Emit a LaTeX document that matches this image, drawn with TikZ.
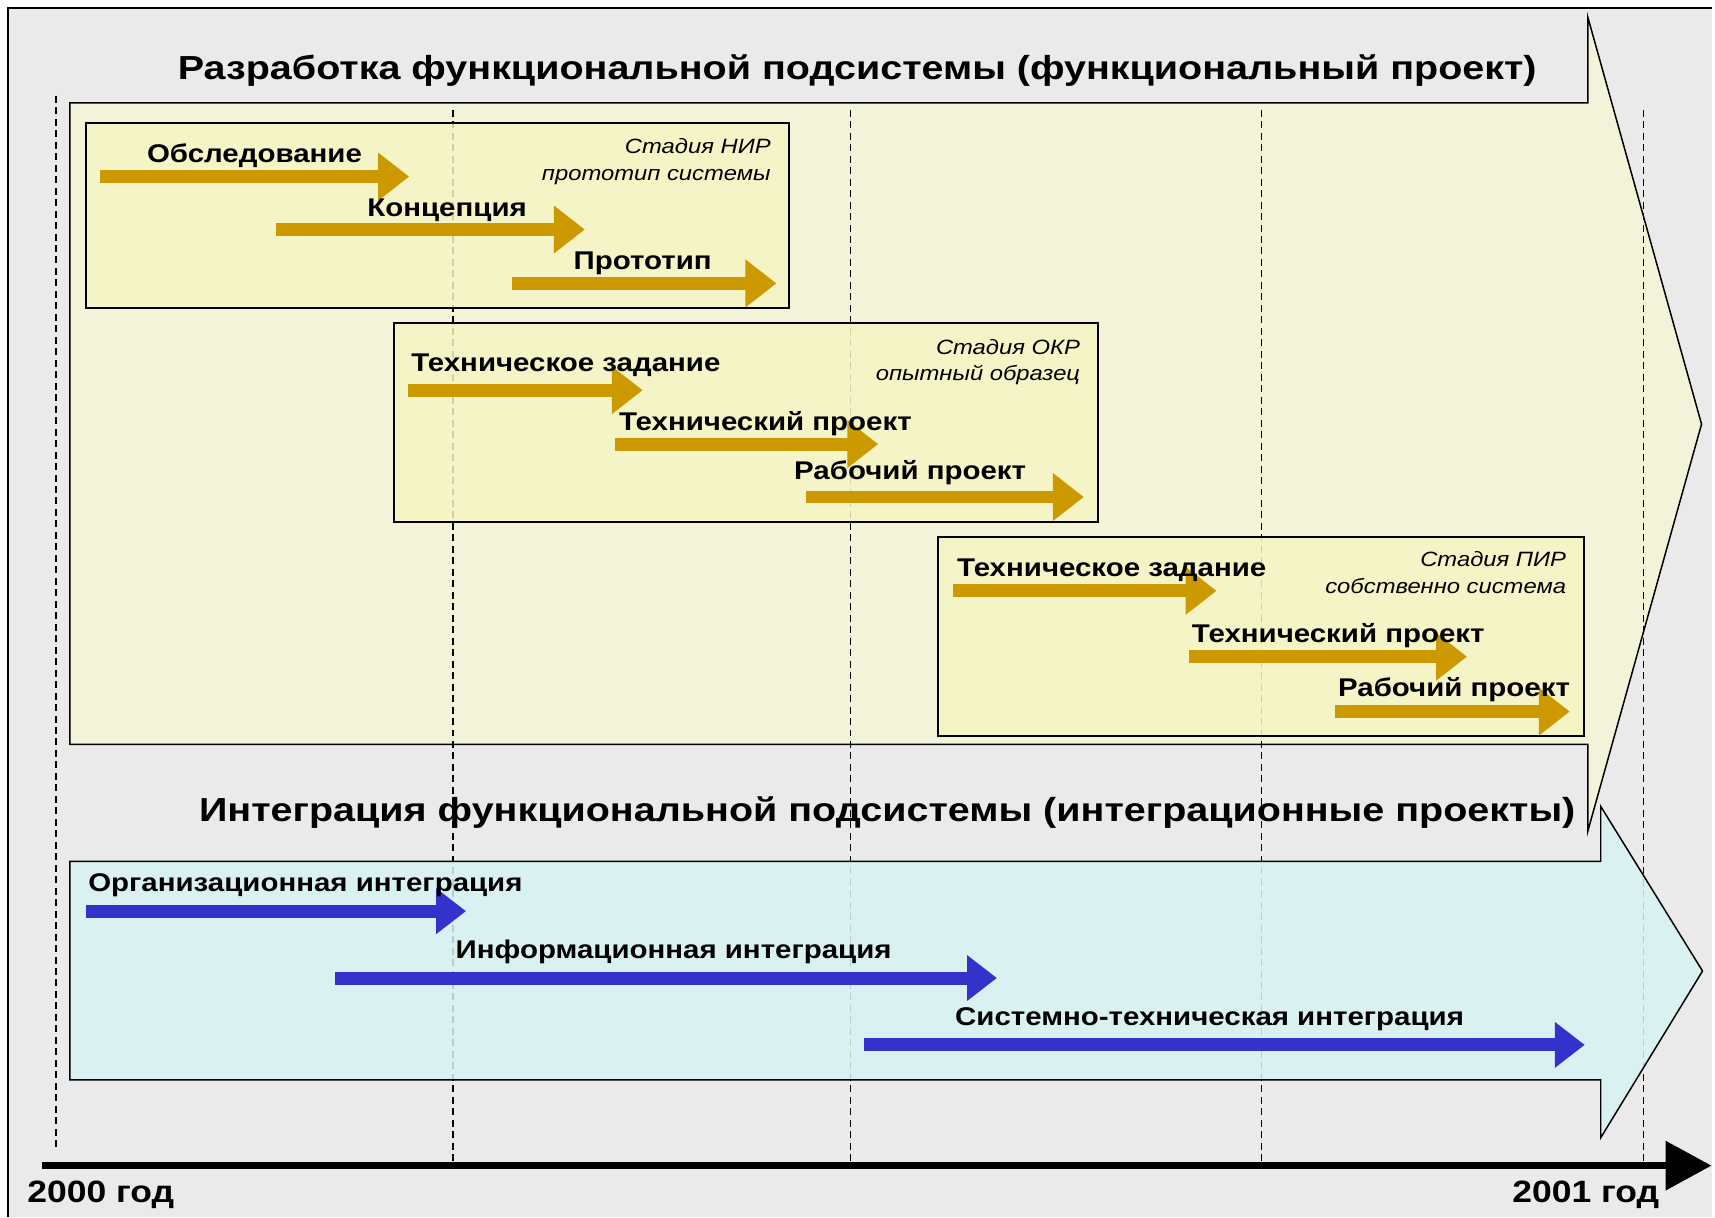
\documentclass[tikz,border=0pt]{standalone}
\usepackage{fontspec}
\setmainfont{Liberation Sans}
\newfontfamily\widefont[FakeStretch=1.15]{Liberation Sans}
\newfontfamily\headfont[FakeStretch=1.185]{Liberation Sans}
\definecolor{bggray}{RGB}{234,234,234}
\definecolor{creamarrow}{RGB}{243,243,218}
\definecolor{stageyellow}{RGB}{245,245,195}
\definecolor{integcyan}{RGB}{216,243,243}
\definecolor{taskgold}{RGB}{204,153,0}
\definecolor{taskblue}{RGB}{51,51,204}
\usetikzlibrary{arrows.meta, positioning}

\begin{document}
\begin{tikzpicture}[x=0.1mm, y=-0.1mm,
  guide/.style={line width=0.15mm, dash pattern=on 0.7mm off 0.45mm},
  bigarrow/.style={draw=black, line width=0.15mm},
  stagebox/.style={draw=black, line width=0.2mm, fill=stageyellow, fill opacity=0.85},
  goldtask/.style={taskgold, line width=1.3mm, -{Triangle[length=3.1mm, width=4.6mm]}},
  bluetask/.style={taskblue, line width=1.3mm, -{Triangle[length=3.0mm, width=4.4mm]}},
  tasklabel/.style={anchor=base, inner sep=0pt, font=\widefont\bfseries\fontsize{7.3pt}{8pt}\selectfont},
  stagelabel/.style={anchor=base east, inner sep=0pt, font=\widefont\itshape\fontsize{5.9pt}{7pt}\selectfont},
  headline/.style={anchor=base, inner sep=0pt, font=\headfont\bfseries\fontsize{9.5pt}{10pt}\selectfont},
  yearlabel/.style={anchor=base, inner sep=0pt, font=\widefont\bfseries\fontsize{8.8pt}{10pt}\selectfont}]

  % Background and frame
  \fill[white] (0,0) rectangle (1715,1219);
  \fill[bggray] (8,8) rectangle (1715,1219);
  \draw[line width=0.22mm] (8,1219) -- (8,8) -- (1715,8);

  % Functional project arrow
  \draw[bigarrow, fill=creamarrow] (70,103) -- (1591,103) -- (1591,17) -- (1705,425)
    -- (1591,833) -- (1591,746) -- (70,746) -- cycle;

  % Year guides
  \draw[guide] (56,96) -- (56,1153);
  \foreach \gx in {454,852,1264,1647}
    \draw[guide] (\gx,110) -- (\gx,1163);

  \node[headline] (title1) at (859,80) {Разработка функциональной подсистемы (функциональный проект)};

  % Stage NIR
  \draw[stagebox] (86,123) rectangle (791,309);
  \node[stagelabel] (nir1) at (773,154) {Стадия НИР};
  \node[stagelabel] (nir2) at (773,181) {прототип системы};
  \coordinate (n1s) at (100,177); \coordinate (n1e) at (410,177);
  \coordinate (n2s) at (277,230); \coordinate (n2e) at (586,230);
  \coordinate (n3s) at (513,284); \coordinate (n3e) at (778,284);
  \draw[goldtask] (n1s) -- (n1e);
  \draw[goldtask] (n2s) -- (n2e);
  \draw[goldtask] (n3s) -- (n3e);
  \node[tasklabel] (obsl) at (255,163) {Обследование};
  \node[tasklabel] (konc) at (448,217) {Концепция};
  \node[tasklabel] (prot) at (644,270) {Прототип};

  % Stage OKR
  \draw[stagebox] (395,324) rectangle (1100,523);
  \node[stagelabel] (okr1) at (1083,355) {Стадия ОКР};
  \node[stagelabel] (okr2) at (1083,381) {опытный образец};
  \coordinate (o1s) at (409,391); \coordinate (o1e) at (644,391);
  \coordinate (o2s) at (616,445); \coordinate (o2e) at (880,445);
  \coordinate (o3s) at (808,498); \coordinate (o3e) at (1086,498);
  \draw[goldtask] (o1s) -- (o1e);
  \draw[goldtask] (o2s) -- (o2e);
  \draw[goldtask] (o3s) -- (o3e);
  \node[tasklabel] (okrtz) at (567,372) {Техническое задание};
  \node[tasklabel] (okrtp) at (767,431) {Технический проект};
  \node[tasklabel] (okrrp) at (912,480) {Рабочий проект};

  % Stage PIR
  \draw[stagebox] (940,538) rectangle (1587,737);
  \node[stagelabel] (pir1) at (1570,568) {Стадия ПИР};
  \node[stagelabel] (pir2) at (1570,595) {собственно система};
  \coordinate (p1s) at (955,592); \coordinate (p1e) at (1219,592);
  \coordinate (p2s) at (1191,658); \coordinate (p2e) at (1470,658);
  \coordinate (p3s) at (1338,713); \coordinate (p3e) at (1573,713);
  \draw[goldtask] (p1s) -- (p1e);
  \draw[goldtask] (p2s) -- (p2e);
  \draw[goldtask] (p3s) -- (p3e);
  \node[tasklabel] (pirtz) at (1114,578) {Техническое задание};
  \node[tasklabel] (pirtp) at (1341,644) {Технический проект};
  \node[tasklabel] (pirrp) at (1457,698) {Рабочий проект};

  % Integration arrow
  \node[headline] (title2) at (889,823) {Интеграция функциональной подсистемы (интеграционные проекты)};
  \draw[bigarrow, fill=integcyan, fill opacity=0.85] (70,863) -- (1604,863) -- (1604,808)
    -- (1706,973) -- (1604,1140) -- (1604,1082) -- (70,1082) -- cycle;
  \coordinate (i1s) at (86,913); \coordinate (i1e) at (467,913);
  \coordinate (i2s) at (336,980); \coordinate (i2e) at (999,980);
  \coordinate (i3s) at (866,1047); \coordinate (i3e) at (1588,1047);
  \draw[bluetask] (i1s) -- (i1e);
  \draw[bluetask] (i2s) -- (i2e);
  \draw[bluetask] (i3s) -- (i3e);
  \node[tasklabel] (orgint) at (306,893) {Организационная интеграция};
  \node[tasklabel] (infint) at (675,960) {Информационная интеграция};
  \node[tasklabel] (sysint) at (1212,1028) {Системно-техническая интеграция};

  % Time axis
  \coordinate (ax0) at (42,1168);
  \coordinate (ax1) at (1715,1168);
  \draw[line width=0.7mm, -{Triangle[length=4.6mm, width=4.8mm]}] (ax0) -- (ax1);
  \node[yearlabel] (y2000) at (101,1205) {2000 год};
  \node[yearlabel] (y2001) at (1589,1205) {2001 год};
\end{tikzpicture}
\end{document}
